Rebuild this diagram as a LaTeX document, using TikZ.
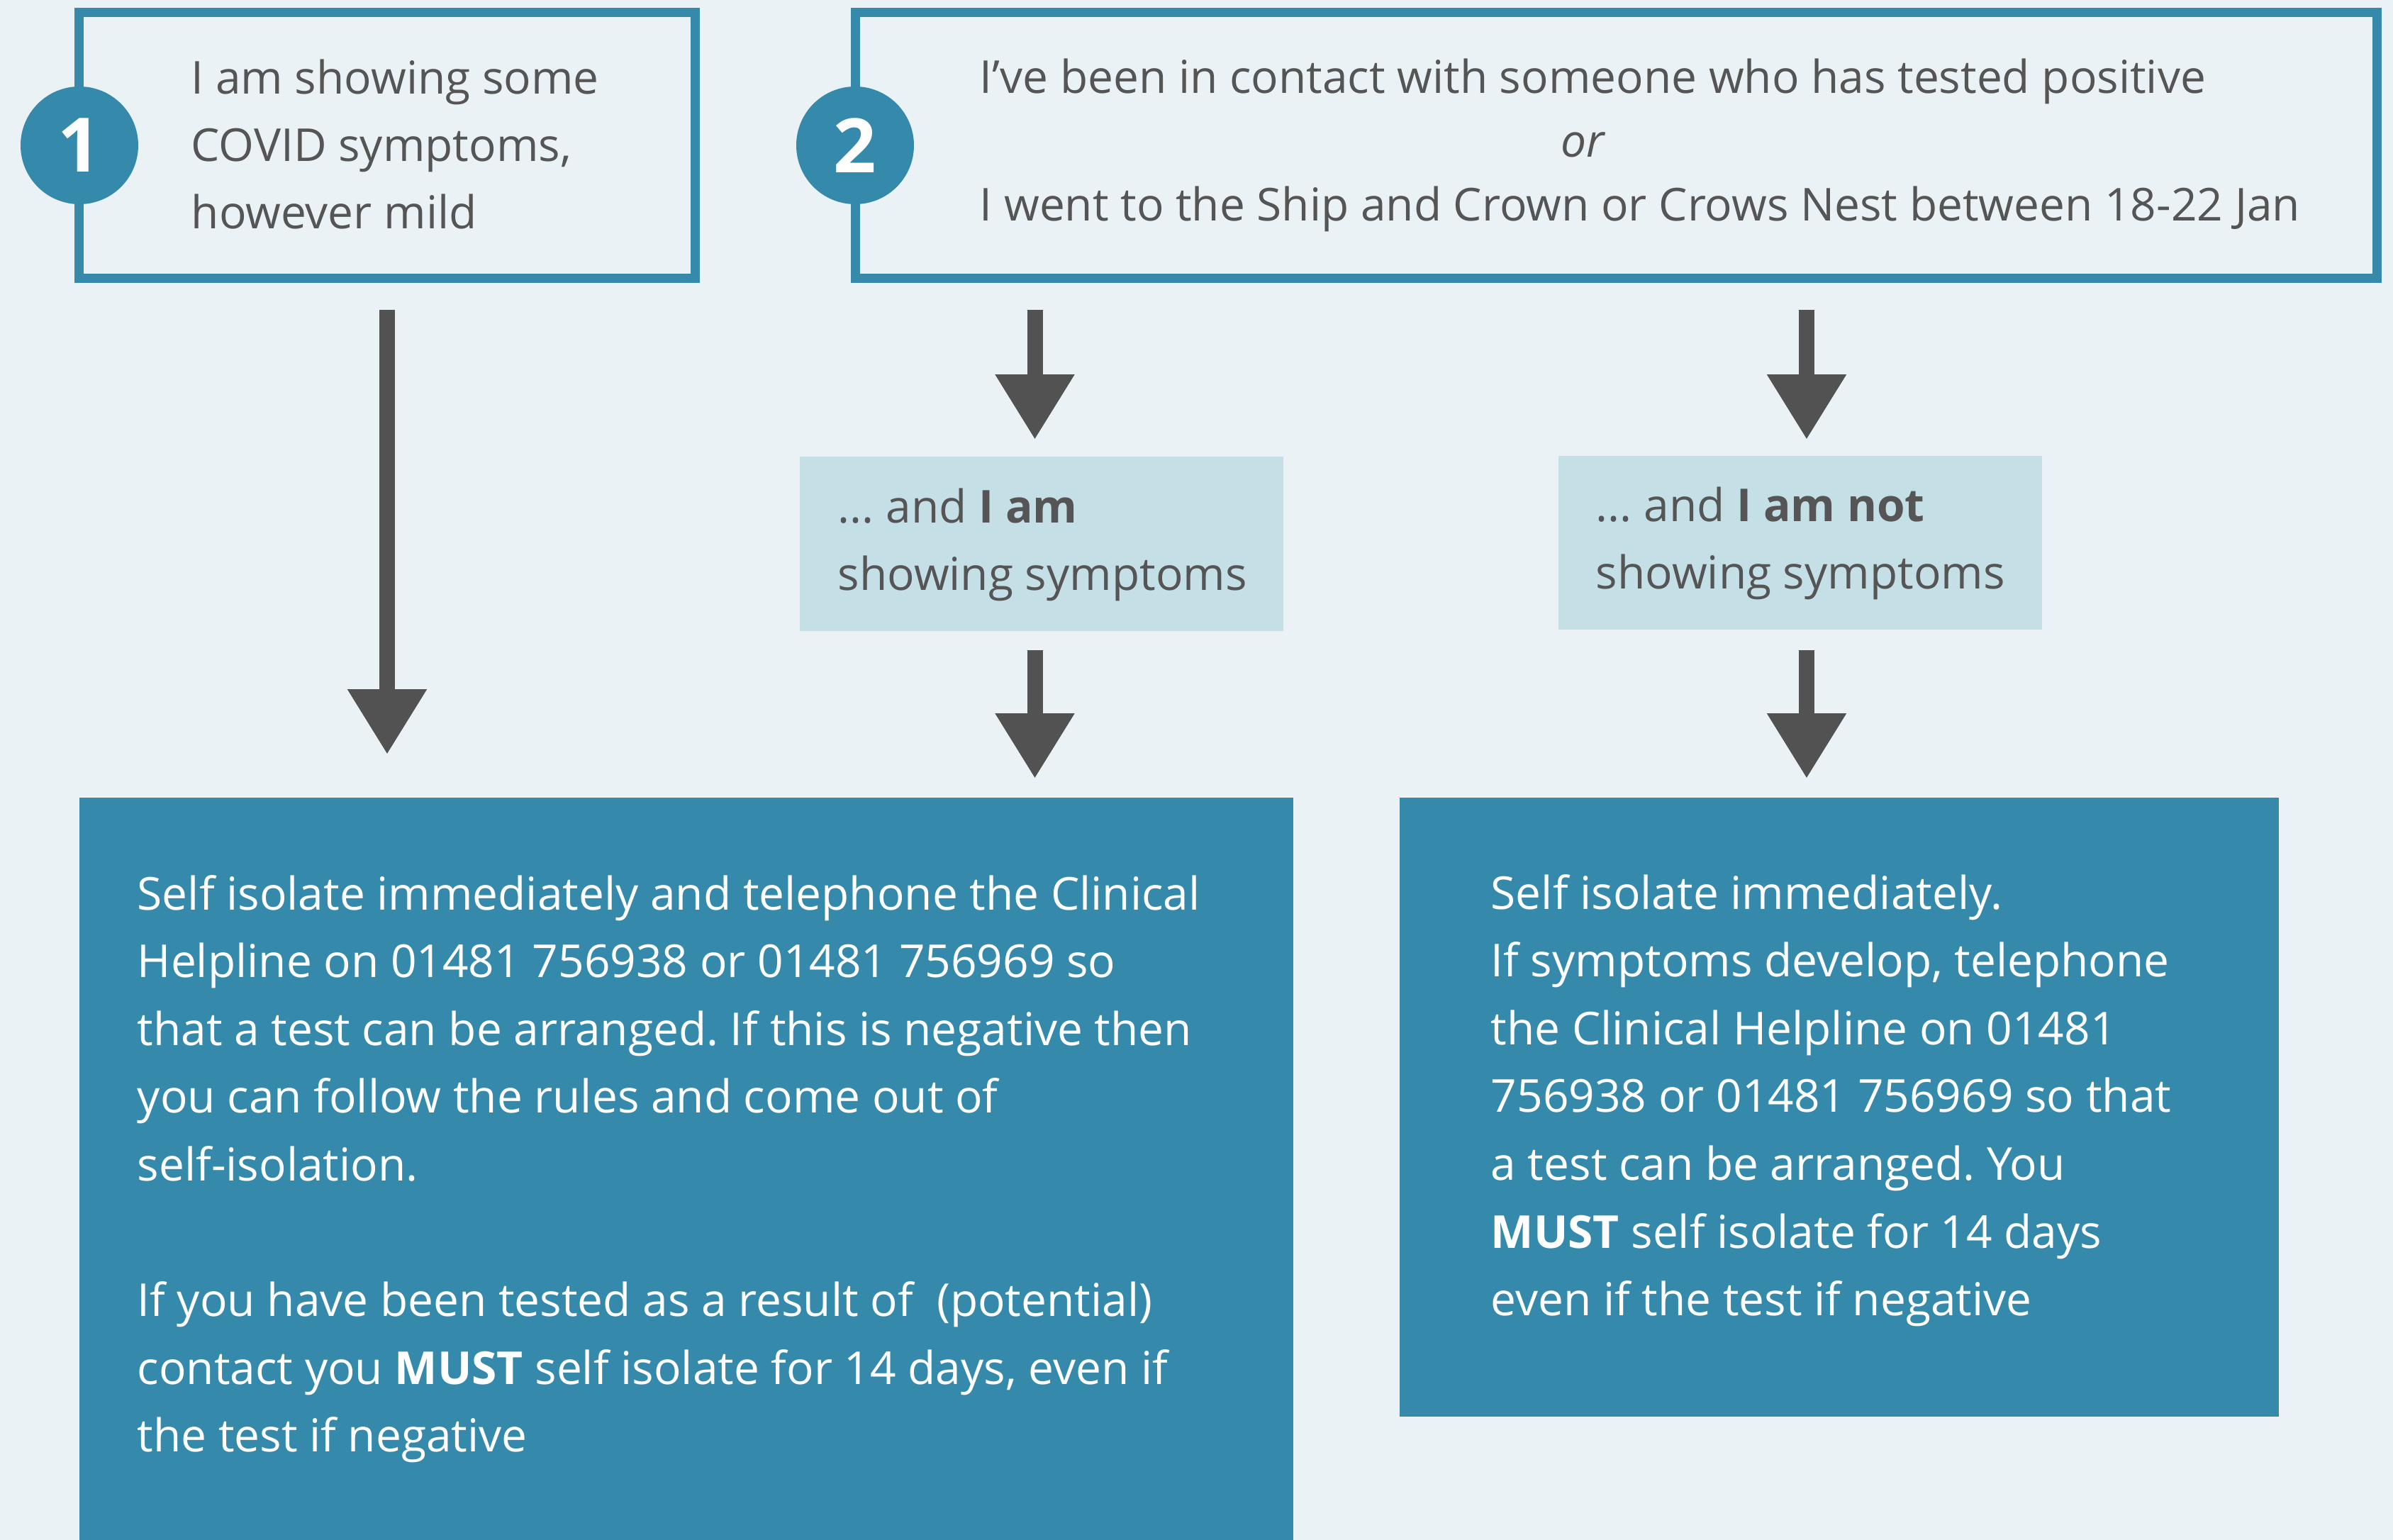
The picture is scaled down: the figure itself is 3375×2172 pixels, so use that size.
\documentclass[tikz,border=0pt]{standalone}
\usepackage{fontspec}
\setmainfont{Open Sans}
\usetikzlibrary{arrows.meta}
\frenchspacing
\definecolor{bgcol}{HTML}{EAF2F5}
\definecolor{covteal}{HTML}{3589AB}
\definecolor{lightbox}{HTML}{C5DFE7}
\definecolor{arrowgray}{HTML}{525252}
\definecolor{txtgray}{HTML}{555555}
\newcommand{\toptext}{\fontsize{16pt}{23.75pt}\selectfont}
\newcommand{\bodytext}{\fontsize{16pt}{23.9pt}\selectfont}
\begin{document}
\begin{tikzpicture}[x=0.25pt,y=-0.25pt,
  outlinebox/.style={draw=covteal, line width=3.25pt, fill=bgcol, inner sep=0pt, outer sep=0pt},
  numdisc/.style={circle, fill=covteal, minimum size=41.5pt, inner sep=0pt, text=white, font=\bfseries\fontsize{26.5pt}{26.5pt}\selectfont},
  choicebox/.style={fill=lightbox, inner sep=0pt, outer sep=0pt, minimum width=170.5pt},
  resultbox/.style={fill=covteal, inner sep=0pt, outer sep=0pt},
  greytext/.style={anchor=base west, inner sep=0pt, text=txtgray, font=\toptext},
  whitetext/.style={anchor=base west, inner sep=0pt, text=white, font=\bodytext},
  arr/.style={draw=arrowgray, line width=5.5pt, -{Triangle[width=26.5pt,length=23pt]}}
]
\fill[bgcol] (0,0) rectangle (3375,2172);
\useasboundingbox (0,0) rectangle (3375,2172);

% top boxes
\node[outlinebox, minimum width=217.25pt, minimum height=93.75pt] (box1) at (546,205) {};
\node[outlinebox, minimum width=536.5pt, minimum height=93.75pt] (box2) at (2279.5,205) {};
\node[numdisc] (n1) at (112,205) {1};
\node[numdisc] (n2) at (1206,205) {2};

\node[greytext] (t1) at (269,133) {\parbox[t]{200pt}{\raggedright I am showing some\\COVID symptoms,\\however mild}};
\node[greytext] (t2) at (1381,132) {\parbox[t]{500pt}{\raggedright\fontsize{16pt}{22.5pt}\selectfont I’ve been in contact with someone who has tested positive\\\hspace*{205pt}\textit{or}\\I went to the Ship and Crown or Crows Nest between 18-22 Jan}};

% choice boxes
\node[choicebox, minimum height=61.5pt] (lb1) at (1469,767) {};
\node[choicebox, minimum height=61.25pt] (lb2) at (2539,765.5) {};
\node[greytext] (t3) at (1181,737) {\parbox[t]{170pt}{\raggedright ... and \textbf{I am}\\showing symptoms}};
\node[greytext] (t4) at (2250,735) {\parbox[t]{170pt}{\raggedright ... and \textbf{I am not}\\showing symptoms}};

% result boxes
\node[resultbox, minimum width=428pt, minimum height=261.75pt] (db1) at (968,1648.5) {};
\node[resultbox, minimum width=310pt, minimum height=218.25pt] (db2) at (2594,1561.5) {};
\node[whitetext] (t5) at (193,1283) {\parbox[t]{420pt}{\raggedright Self isolate immediately and telephone the Clinical\\Helpline on 01481 756938 or 01481 756969 so\\that a test can be arranged. If this is negative then\\you can follow the rules and come out of\\self-isolation.\\[23.9pt]If you have been tested as a result of\ \ (potential)\\contact you \textbf{MUST} self isolate for 14 days, even if\\the test if negative}};
\node[whitetext] (t6) at (2102,1282) {\parbox[t]{300pt}{\raggedright Self isolate immediately.\\If symptoms develop, telephone\\the Clinical Helpline on 01481\\756938 or 01481 756969 so that\\a test can be arranged. You\\\textbf{MUST} self isolate for 14 days\\even if the test if negative}};

% arrows
\coordinate (colA) at (1459.5,0);
\coordinate (colB) at (2548,0);
\draw[arr, shorten <=11.125pt, shorten >=15.25pt] (box1.south) -- (box1.south |- db1.north);
\draw[arr, shorten <=11.125pt, shorten >=6pt] (colA |- box2.south) -- (colA |- lb1.north);
\draw[arr, shorten <=11.125pt, shorten >=5.75pt] (colB |- box2.south) -- (colB |- lb2.north);
\draw[arr, shorten <=6.75pt, shorten >=6.75pt] (colA |- lb1.south) -- (colA |- db1.north);
\draw[arr, shorten <=7.25pt, shorten >=6.75pt] (colB |- lb2.south) -- (colB |- db2.north);
\end{tikzpicture}
\end{document}
